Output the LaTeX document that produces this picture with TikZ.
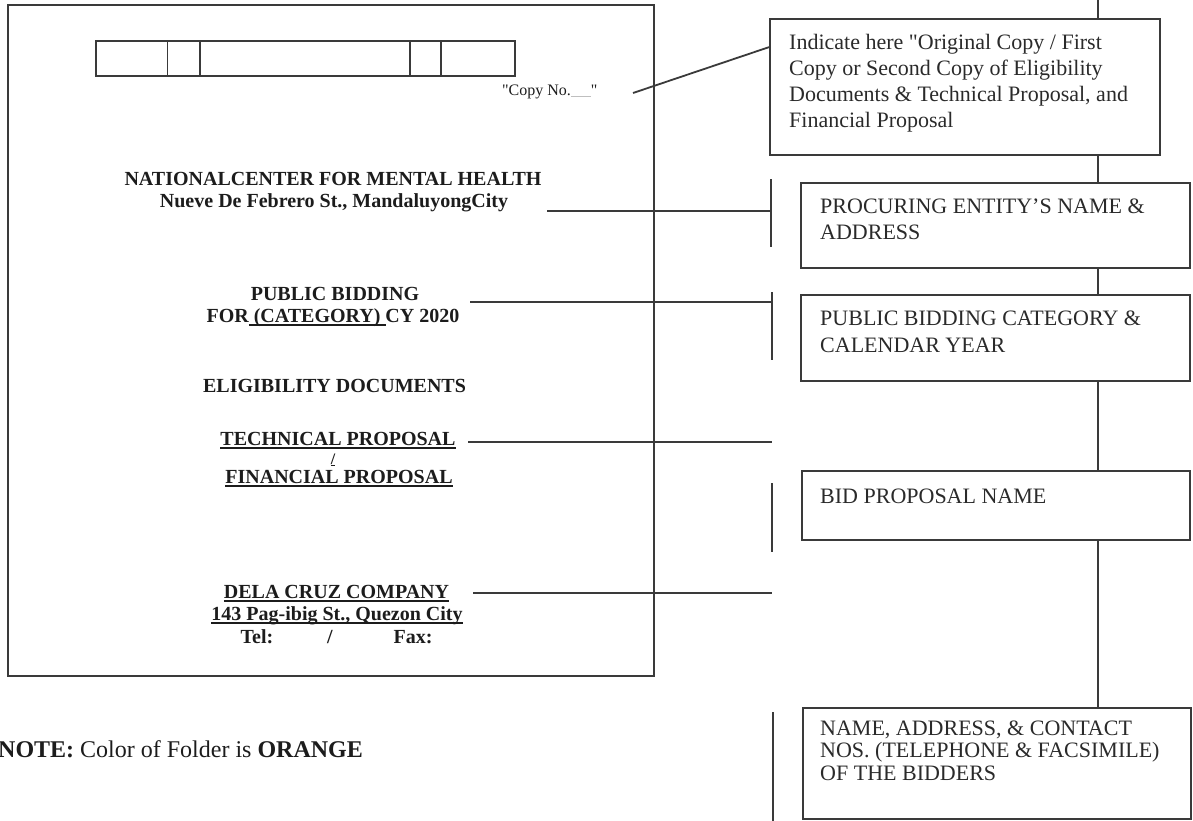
\documentclass[tikz,border=0pt]{standalone}
\usepackage{fontspec}
\setmainfont{Liberation Serif}
\newfontfamily\qfont{Liberation Serif}[Ligatures=TeXOff]
\newcommand{\dq}{{\qfont"}}
\newcommand{\myul}[1]{\setbox0=\hbox{#1}\rlap{\rule[-4pt]{\wd0}{1.6pt}}\box0}
\newcommand{\myulb}[1]{\setbox0=\hbox{#1}\rlap{\rule[-2pt]{\wd0}{1.4pt}}\box0}
\definecolor{lc}{HTML}{3A3A3A}
\definecolor{tc}{HTML}{1C1C1C}
\definecolor{tb}{HTML}{2A2A2A}
\begin{document}
\begin{tikzpicture}[x=1pt,y=-1pt,
  ln/.style={draw=lc, line width=1.8pt},
  barln/.style={draw=lc, line width=2.4pt},
  boxs/.style={draw=lc, line width=1.8pt, rectangle, inner sep=0pt},
  bigt/.style={font=\fontsize{20}{22}\selectfont\bfseries, text=tc, inner sep=0pt, anchor=base},
  boxt/.style={font=\fontsize{22}{25}\selectfont, text=tb, inner sep=0pt, anchor=base west},
  notet/.style={font=\fontsize{24}{27}\selectfont, text=tc, inner sep=0pt, anchor=base west},
  copyt/.style={font=\fontsize{16}{18}\selectfont, text=tc, inner sep=0pt, anchor=base west}]
\useasboundingbox (0,0) rectangle (1193,820);

% folder front
\draw[ln] (8,5) rectangle (654,676);
\draw[ln] (96,41) rectangle (515,76);
\draw[ln] (167.5,41) -- (167.5,76);
\draw[ln] (200,41) -- (200,76);
\draw[ln] (410,41) -- (410,76);
\draw[ln] (441,41) -- (441,76);

\node[copyt] (copy) at (502,95) {\dq Copy No.{\color{black!25}\rule[-2pt]{20pt}{1pt}}\dq};

\node[bigt] (t1) at (333,185) {NATIONALCENTER FOR MENTAL HEALTH};
\node[bigt] (t2) at (334,207) {Nueve De Febrero St., MandaluyongCity};
\node[bigt] (t3) at (335,300) {PUBLIC BIDDING};
\node[bigt] (t4) at (333,322) {FOR\myul{\ (CATEGORY)\ }CY 2020};
\node[bigt] (t5) at (334.5,392) {ELIGIBILITY DOCUMENTS};
\node[bigt] (t6) at (338,445) {\myul{TECHNICAL PROPOSAL}};
\node[bigt, font=\fontsize{16}{18}\selectfont\bfseries] (t7) at (333,464) {\myulb{/}};
\node[bigt] (t8) at (339,483) {\myul{FINANCIAL PROPOSAL}};
\node[bigt] (t9) at (336.5,598) {\myul{DELA CRUZ COMPANY}};
\node[bigt] (t10) at (337,620) {\myul{143 Pag-ibig St., Quezon City}};
\node[bigt] (tel) at (257,643) {Tel:};
\node[bigt] (sl) at (330,643) {/};
\node[bigt] (fax) at (413,643) {Fax:};

\node[notet] (note) at (-2,757) {\textbf{NOTE:} Color of Folder is \textbf{ORANGE}};

% right side boxes
\node[boxs, minimum width=390, minimum height=136] (c1) at (965,87) {};
\node[boxs, minimum width=389, minimum height=85] (b2) at (995.5,225.5) {};
\node[boxs, minimum width=389, minimum height=86] (b3) at (995.5,338) {};
\node[boxs, minimum width=388, minimum height=69] (b4) at (996,505.5) {};
\node[boxs, minimum width=388, minimum height=111] (b5) at (997,763.5) {};

\node[boxt] (c1a) at (789,49) {Indicate here \dq Original Copy / First};
\node[boxt] (c1b) at (789,75) {Copy or Second Copy of Eligibility};
\node[boxt] (c1c) at (789,101) {Documents \& Technical Proposal, and};
\node[boxt] (c1d) at (789,127) {Financial Proposal};
\node[boxt] (b2a) at (820,213) {PROCURING ENTITY’S NAME \&};
\node[boxt] (b2b) at (820,239) {ADDRESS};
\node[boxt] (b3a) at (820,325) {PUBLIC BIDDING CATEGORY \&};
\node[boxt] (b3b) at (820,352) {CALENDAR YEAR};
\node[boxt] (b4a) at (820,503) {BID PROPOSAL NAME};
\node[boxt] (b5a) at (820,735) {NAME, ADDRESS, \& CONTACT};
\node[boxt] (b5b) at (820,757) {NOS. (TELEPHONE \& FACSIMILE)};
\node[boxt] (b5c) at (820,780) {OF THE BIDDERS};

% vertical chain
\coordinate (top) at (1098,0);
\draw[ln] (top) -- (top |- c1.north);
\draw[ln] (top |- c1.south) -- (top |- b2.north);
\draw[ln] (top |- b2.south) -- (top |- b3.north);
\draw[ln] (top |- b3.south) -- (top |- b4.north);
\draw[ln] (top |- b4.south) -- (top |- b5.north);

% copy leader
\coordinate (cs) at (633,93);
\draw[ln] (cs) -- ([yshift=-29pt]c1.north west);

% bars
\coordinate (bar1t) at (771,179); \coordinate (bar1b) at (771,247);
\coordinate (bar2t) at (772,292); \coordinate (bar2b) at (772,360);
\coordinate (bar3t) at (772,483); \coordinate (bar3b) at (772,552);
\coordinate (bar4t) at (773,712); \coordinate (bar4b) at (773,822);
\draw[barln] (bar1t) -- (bar1b);
\draw[barln] (bar2t) -- (bar2b);
\draw[barln] (bar3t) -- (bar3b);
\draw[barln] (bar4t) -- (bar4b);

% leader lines
\coordinate (l1) at (547,211);
\coordinate (l2) at (470,302);
\coordinate (l3) at (468,442);
\coordinate (l4) at (473,593);
\draw[ln] (l1) -- (l1 -| bar1t);
\draw[ln] (l2) -- (l2 -| bar2t);
\draw[ln] (l3) -- (l3 -| bar2t);
\draw[ln] (l4) -- (l4 -| bar2t);
\end{tikzpicture}
\end{document}
